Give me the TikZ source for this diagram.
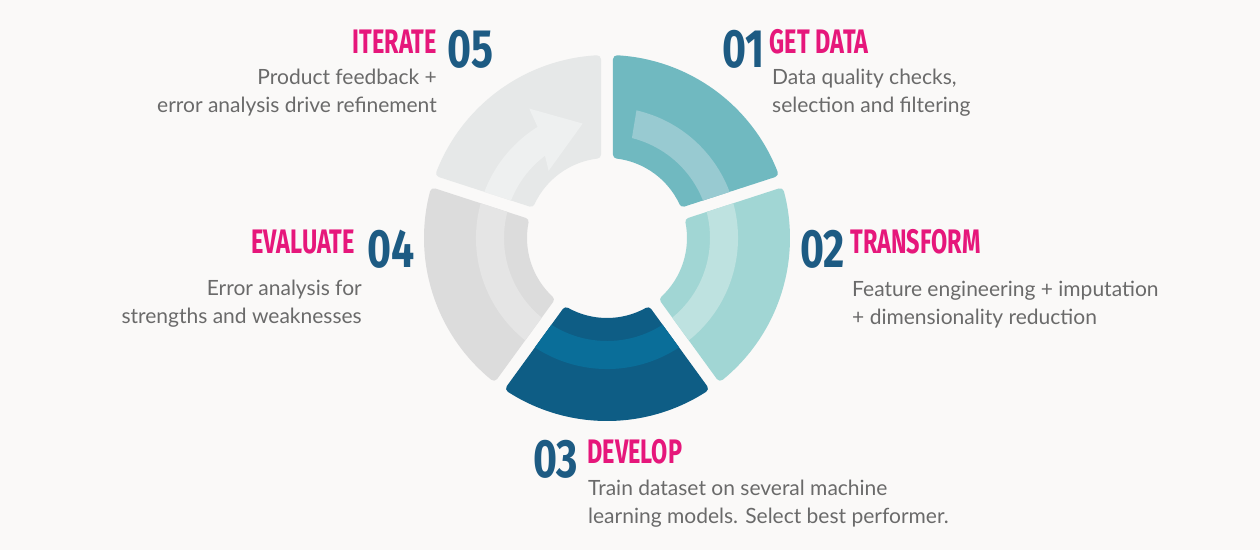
\documentclass[tikz,border=0pt]{standalone}
\usepackage{fontspec}
\setmainfont{Lato}
\newfontfamily\numfont[FakeStretch=0.76]{Fira Sans}
\newfontfamily\stepfont[FakeStretch=0.69]{Fira Sans}
\usetikzlibrary{positioning}

\definecolor{bgc}{HTML}{FAF9F8}
\definecolor{numblue}{HTML}{1D5B83}
\definecolor{titlepink}{HTML}{E6177B}
\definecolor{descgray}{HTML}{6A6A6A}
\definecolor{segA}{HTML}{70B9C0}  \definecolor{bandA}{HTML}{98CAD1}
\definecolor{segB}{HTML}{A1D6D4}  \definecolor{bandB}{HTML}{BEE2E0}
\definecolor{segC}{HTML}{0E5D85}  \definecolor{bandC}{HTML}{0A6E99}
\definecolor{segD}{HTML}{DCDCDC}  \definecolor{bandD}{HTML}{E5E5E5}
\definecolor{segE}{HTML}{E6E8E8}  \definecolor{bandE}{HTML}{EEF0F0}

\begin{document}
\begin{tikzpicture}[
		x=1pt, y=1pt,
		num/.style={font={\numfont\bfseries\fontsize{54}{54}\selectfont}, text=numblue, inner sep=0pt},
		title/.style={font={\stepfont\bfseries\fontsize{34}{34}\selectfont}, text=titlepink, inner sep=0pt},
		desc/.style={font={\fontsize{21}{28}\selectfont}, text=descgray, inner sep=0pt},
		% ring piece: start angle, end angle, inner r, outer r, half gap
		segpath/.style n args={5}{insert path={
				({#1+asin(#5/#4)}:#4) arc[start angle={#1+asin(#5/#4)}, end angle={#2-asin(#5/#4)}, radius=#4]
				-- ({#2-asin(#5/#3)}:#3) arc[start angle={#2-asin(#5/#3)}, end angle={#1+asin(#5/#3)}, radius=#3] -- cycle}},
		% the circular arrow running round the ring
		arrowpath/.style={insert path={
				(77:131) arc[start angle=77, end angle=-238, radius=131]
				-- (121:151) -- (102:117) -- (131:89) -- (127:103)
				arc[start angle=-233, end angle=76, radius=103] -- cycle}}
		]
		\useasboundingbox (-607,-312) rectangle (653,238);
		\fill[bgc] (-607,-312) rectangle (653,238);
		
		% ring pieces
		\foreach \a/\b/\sc/\bc in {18/90/segA/bandA, -54/18/segB/bandB, 234/306/segC/bandC, 162/234/segD/bandD, 90/162/segE/bandE}{
			\fill[\sc, draw=\sc, line width=8pt, line join=round, segpath={\a}{\b}{84}{179}{10}];
			\begin{scope}
				\clip[segpath={\a}{\b}{80}{183}{6}];
				\fill[\bc, arrowpath];
			\end{scope}
		}
		
		% 01
		\node[num, anchor=base west] (n01) at (115,171) {01};
		\node[title, right=5pt of n01.north east, anchor=north west] (t01) {GET DATA};
		\node[desc, align=left, anchor=north west] (d01) at (165,169) {Data quality checks,\\selection and filtering};
		
		% 02
		\node[num, anchor=base west] (n02) at (193,-29) {02};
		\node[title, right=5pt of n02.north east, anchor=north west] (t02) {TRANSFORM};
		\node[desc, align=left, anchor=north west] (d02) at (245,-43) {Feature engineering + imputation\\+ dimensionality reduction};
		
		% 03
		\node[num, anchor=base west] (n03) at (-74,-239) {03};
		\node[title, right=9pt of n03.north east, anchor=north west] (t03) {DEVELOP};
		\node[desc, align=left, anchor=north west] (d03) at (-19,-242) {Train dataset on several machine\\learning models. Select best performer.};
		
		% 04
		\node[num, anchor=base west] (n04) at (-240,-29) {04};
		\node[title, left=12pt of n04.north west, anchor=north east] (t04) {EVALUATE};
		\node[desc, align=right, anchor=north east] (d04) at (-245,-42) {Error analysis for\\strengths and weaknesses};
		
		% 05
		\node[num, anchor=base west] (n05) at (-160,171) {05};
		\node[title, left=10pt of n05.north west, anchor=north east] (t05) {ITERATE};
		\node[desc, align=right, anchor=north east] (d05) at (-170,169) {Product feedback +\\error analysis drive refinement};
	\end{tikzpicture}
\end{document}
